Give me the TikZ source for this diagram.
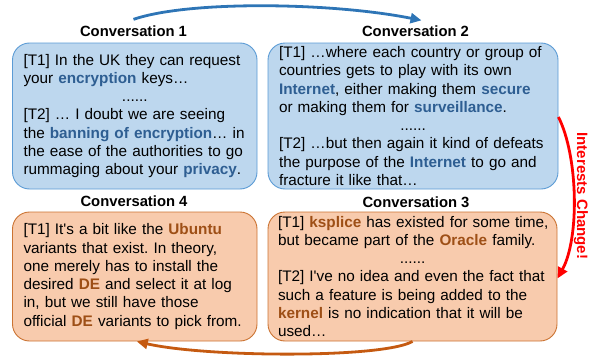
\documentclass[tikz,border=0pt]{standalone}
\usepackage{fontspec}
\setmainfont{Liberation Sans}
\usetikzlibrary{arrows.meta}
\definecolor{bluefill}{HTML}{BDD7EE}
\definecolor{blueline}{HTML}{5B9BD5}
\definecolor{orangefill}{HTML}{F8CBAD}
\definecolor{orangeline}{HTML}{CB7332}
\definecolor{kwblue}{HTML}{2E5E92}
\definecolor{kworange}{HTML}{9E4F16}
\definecolor{toparrowc}{HTML}{2E75B6}
\definecolor{botarrowc}{HTML}{C55A11}
\definecolor{redc}{HTML}{FF0000}
\newcommand\kwb[1]{\textbf{\color{kwblue}#1}}
\newcommand\kwo[1]{\textbf{\color{kworange}#1}}
\newcommand\dotsline{\makebox[\linewidth][c]{......}}
\newcommand\turn[1]{{[T#1]}}
\newcommand\apos{\textquotesingle}
\tikzset{
  convbox/.style={rounded corners=17pt, line width=0.9pt, inner xsep=11pt, inner ysep=0pt,
    align=left, font=\fontsize{15.3}{18.3}\selectfont\frenchspacing},
  bluebox/.style={convbox, draw=blueline, fill=bluefill},
  orangebox/.style={convbox, draw=orangeline, fill=orangefill},
  convtitle/.style={font=\bfseries\fontsize{14.8}{17}\selectfont, inner sep=0pt},
  flowarrow/.style={line width=2.8pt, -{Triangle[length=11pt,width=10pt]}},
}
\begin{document}
\begin{tikzpicture}[x=1pt,y=-1pt]
\useasboundingbox (0,0) rectangle (597,356);
% titles
\node[convtitle] (t1) at (133.5,31) {Conversation 1};
\node[convtitle] (t2) at (415.5,31) {Conversation 2};
\node[convtitle] (t4) at (134,201) {Conversation 4};
\node[convtitle] (t3) at (416,202) {Conversation 3};
% boxes
\node[bluebox, text width=222.5pt, minimum height=146pt] (box1) at (134.75,116) {%
\turn{1} In the UK they can request\\
your \kwb{encryption} keys…\\
\dotsline\\
\turn{2} … I doubt we are seeing\\
the \kwb{banning of encryption}… in\\
the ease of the authorities to go\\
rummaging about your \kwb{privacy}.};
\node[bluebox, text width=268pt, minimum height=146pt] (box2) at (413,116) {%
\turn{1} …where each country or group of\\
countries gets to play with its own\\
\kwb{Internet}, either making them \kwb{secure}\\
or making them for \kwb{surveillance}.\\
\dotsline\\
\turn{2} …but then again it kind of defeats\\
the purpose of the \kwb{Internet} to go and\\
fracture it like that…};
\node[orangebox, text width=222.5pt, minimum height=129pt] (box4) at (134.75,276.5) {%
\turn{1} It\apos s a bit like the \kwo{Ubuntu}\\
variants that exist. In theory,\\
one merely has to install the\\
desired \kwo{DE} and select it at log\\
in, but we still have those\\
official \kwo{DE} variants to pick from.};
\node[orangebox, inner xsep=10pt, text width=269pt, minimum height=129pt] (box3) at (412.5,276.5) {%
\mbox{\turn{1} \kwo{ksplice} has existed for some time,}\\
but became part of the \kwo{Oracle} family.\\
\dotsline\\
\turn{2} I\apos ve no idea and even the fact that\\
such a feature is being added to the\\
\kwo{kernel} is no indication that it will be\\
used…};
% arrows
\draw[flowarrow, toparrowc] ([yshift=6pt]t1.north) .. controls +(55,-19) and +(-90,-18) .. ([xshift=6pt,yshift=5pt]t2.north);
\draw[flowarrow, botarrowc] (box3.south) .. controls +(-30,17) and +(70,16) .. ([xshift=2pt]box4.south);
\draw[flowarrow, redc] ([yshift=-1pt]box2.east) .. controls +(20,40) and +(22,-40) .. ([yshift=-2pt]box3.east);
\node[font=\bfseries\fontsize{15}{17}\selectfont, text=redc, rotate=-90, inner sep=0pt] (lbl) at (581,196) {Interests Change!};
\end{tikzpicture}
\end{document}
